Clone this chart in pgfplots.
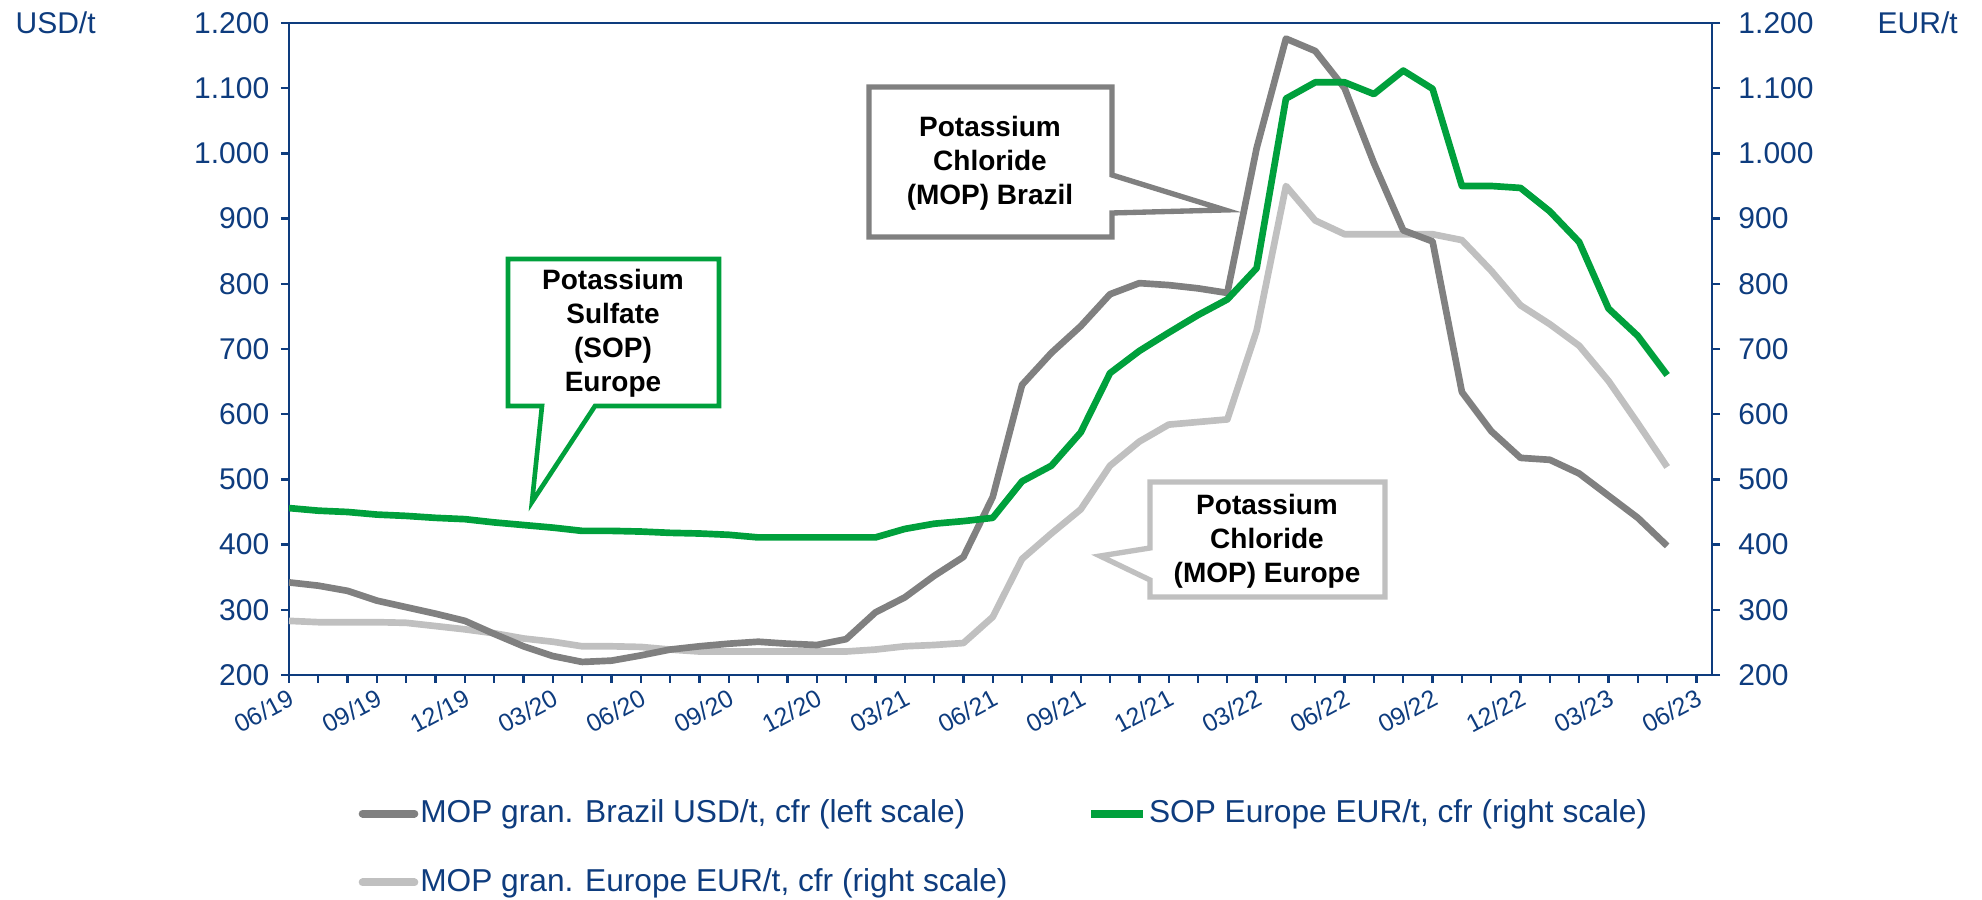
\documentclass[border=0pt]{standalone}
\usepackage{fontspec}
\setmainfont{Liberation Sans}
\usepackage{pgfplots}
\usepackage{pgfplotstable}
\pgfplotsset{compat=1.18}

\definecolor{navy}{HTML}{0E3C7E}
\definecolor{mopbr}{HTML}{808080}
\definecolor{mopeu}{HTML}{C0C0C0}
\definecolor{sop}{HTML}{00A03C}

% months from 06/19 (i=0) to 05/23 (i=47)
\pgfplotstableread{
i  br   sop  eu
0  342  456  283
1  337  452  281
2  329  450  281
3  314  446  281
4  304  444  280
5  294  441  275
6  283  439  270
7  263  434  264
8  244  430  256
9  229  426  251
10 220  421  244
11 222  421  244
12 230  420  243
13 239  418  239
14 244  417  236
15 248  415  236
16 251  411  236
17 248  411  236
18 246  411  236
19 255  411  236
20 296  411  239
21 319  424  244
22 352  432  246
23 381  436  249
24 473  441  289
25 645  497  378
26 694  521  417
27 735  572  454
28 784  663  521
29 801  697  558
30 798  725  584
31 793  752  588
32 786  776  592
33 1008 824  728
34 1176 1084 950
35 1157 1109 897
36 1100 1109 876
37 985  1091 876
38 882  1127 876
39 865  1099 876
40 634  950  867
41 574  950  820
42 533  947  767
43 530  911  738
44 509  864  705
45 475  762  651
46 441  720  586
47 398  660  519
}\prices

\pgfplotsset{
  base/.style={
    scale only axis, width=426.9pt, height=195.6pt,
    xmin=0, xmax=48.53, ymin=200, ymax=1200,
    axis line style={navy, line width=0.7pt},
    tick align=outside,
    major tick length=2.4pt, minor tick length=2.4pt,
    tick style={navy, line width=0.7pt},
    ytick={200,300,...,1200},
    yticklabels={200,300,400,500,600,700,800,900,1.000,1.100,1.200},
    y tick label style={font=\fontsize{9}{10}\selectfont, text=navy},
  },
}

\begin{document}
\begin{tikzpicture}
\begin{axis}[
  base,
  xtick={0,3,...,48},
  minor xtick={0,1,...,48},
  xticklabels={06/19,09/19,12/19,03/20,06/20,09/20,12/20,03/21,06/21,09/21,12/21,03/22,06/22,09/22,12/22,03/23,06/23},
  x tick label style={font=\fontsize{7.5}{8}\selectfont, text=navy, rotate=28, anchor=north east, inner sep=1pt},
  xtick pos=bottom, ytick pos=left,
  legend columns=2,
  legend cell align=left,
  legend style={at={(0.0485,-0.187)}, anchor=north west, draw=none, fill=none,
    inner sep=0pt, row sep=11.1pt, font=\fontsize{9.5}{11}\selectfont, text=navy,
    nodes={inner sep=0.6pt}},
  legend image code/.code={\draw[#1] (0pt,0pt) -- (15.5pt,0pt);},
]
\addplot[mopeu, line width=2pt, line join=round, forget plot] table[x=i, y=eu] {\prices};
\addplot[mopbr, line width=2pt, line join=round, forget plot] table[x=i, y=br] {\prices};
\addplot[sop, line width=2pt, line join=round, forget plot] table[x=i, y=sop] {\prices};

\addlegendimage{mopbr, line width=2.4pt, line cap=round}
\addlegendentry{\makebox[199.5pt][l]{MOP gran. Brazil USD/t, cfr (left scale)}}
\addlegendimage{sop, line width=2.4pt}
\addlegendentry{SOP Europe EUR/t, cfr (right scale)}
\addlegendimage{mopeu, line width=2.4pt, line cap=round}
\addlegendentry{MOP gran. Europe EUR/t, cfr (right scale)}
\end{axis}

\begin{axis}[
  base,
  axis y line*=right, hide x axis,
  ytick pos=right,
  y tick label style={xshift=2pt},
]
\end{axis}

% callouts and unit labels, in pixels of the 1982x900 frame
\begin{scope}[x=0.3pt, y=-0.3pt, shift={(-86.7pt,202.5pt)}]
  \draw[sop, line width=1.4pt, fill=white]
    (508,259) -- (719,259) -- (719,406) -- (595,406) -- (532,502) -- (542,406) -- (508,406) -- cycle;
  \node[align=center, font=\bfseries\fontsize{8.4}{10.2}\selectfont, inner sep=0pt]
    at (613,333) {Potassium\\Sulfate\\(SOP)\\Europe};

  \draw[mopbr, line width=1.6pt, fill=white]
    (869,87) -- (1112,87) -- (1112,175) -- (1225,210) -- (1112,213) -- (1112,237) -- (869,237) -- cycle;
  \node[align=center, font=\bfseries\fontsize{8.4}{10.2}\selectfont, inner sep=0pt]
    at (990,163) {Potassium\\Chloride\\(MOP) Brazil};

  \draw[mopeu, line width=1.6pt, fill=white]
    (1150,482) -- (1385,482) -- (1385,597) -- (1150,597) -- (1150,580) -- (1100,556) -- (1150,548) -- cycle;
  \node[align=center, font=\bfseries\fontsize{8.4}{10.2}\selectfont, inner sep=0pt]
    at (1267,541) {Potassium\\Chloride\\(MOP) Europe};

  \node[anchor=west, text=navy, font=\fontsize{9}{10}\selectfont, inner sep=0pt] at (15,23) {USD/t};
  \node[anchor=west, text=navy, font=\fontsize{9}{10}\selectfont, inner sep=0pt] at (1877,23) {EUR/t};

  \pgfresetboundingbox
  \path[use as bounding box] (0,0) rectangle (1982,900);
\end{scope}
\end{tikzpicture}
\end{document}
